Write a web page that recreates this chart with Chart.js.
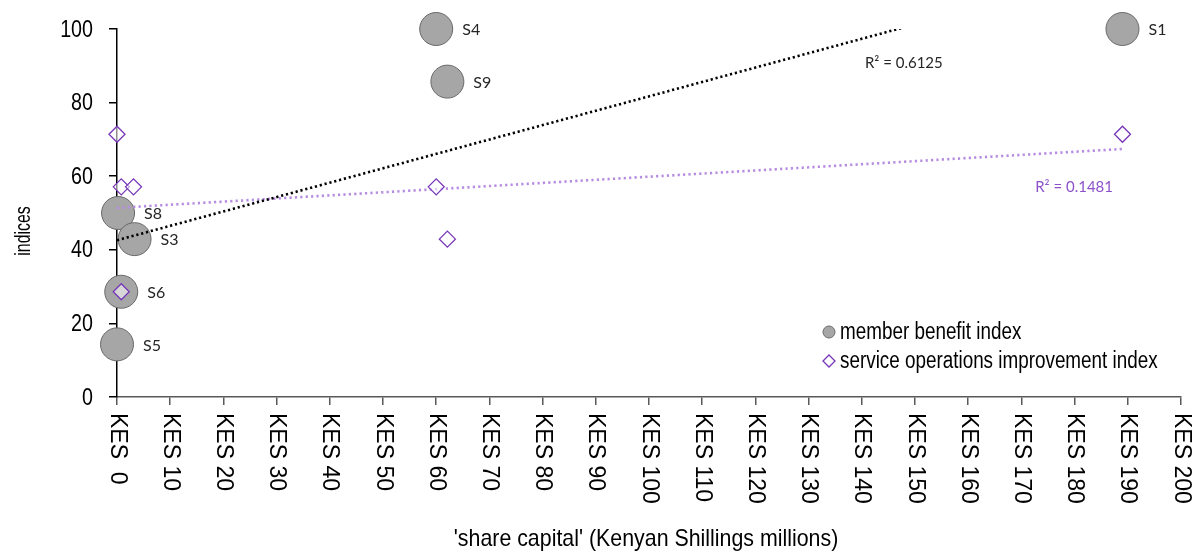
<!DOCTYPE html>
<html>
<head>
<meta charset="utf-8">
<script src="https://cdn.jsdelivr.net/npm/chart.js@4.4.1/dist/chart.umd.min.js"></script>
<style>
  html, body { margin: 0; padding: 0; background: #fff; }
</style>
</head>
<body>
<canvas id="myChart" width="1195" height="557"></canvas>
<script>
// member benefit index (grey circles)
const siteNames = ['S1', 'S4', 'S9', 'S8', 'S3', 'S6', 'S5'];
const benefitCapital = [189, 60, 62.1, 0.2, 3.3, 0.8, 0];
const benefitIndex = [100, 100, 85.7, 50, 42.9, 28.6, 14.3];

// service operations improvement index (diamonds)
const serviceCapital = [0, 0.8, 3.1, 60, 62.1, 189, 0.8];
const serviceIndex = [71.4, 57.1, 57.1, 57.1, 42.9, 71.4, 28.6];

// linear trend lines (start / end)
const trendCapital = [0, 189];
const benefitTrend = [42.6, 116.5];
const serviceTrend = [51.4, 67.4];
const r2Texts = ['R\u00B2 = 0.6125', 'R\u00B2 = 0.1481'];

const seriesNames = ['member benefit index', 'service operations improvement index'];
const xTicks = [0, 10, 20, 30, 40, 50, 60, 70, 80, 90, 100, 110, 120, 130, 140, 150, 160, 170, 180, 190, 200];
const xTickLabels = ['KES  0', 'KES 10', 'KES 20', 'KES 30', 'KES 40', 'KES 50', 'KES 60', 'KES 70',
  'KES 80', 'KES 90', 'KES 100', 'KES 110', 'KES 120', 'KES 130', 'KES 140', 'KES 150', 'KES 160',
  'KES 170', 'KES 180', 'KES 190', 'KES 200'];
const yTicks = [0, 20, 40, 60, 80, 100];
const xTitle = "'share capital' (Kenyan Shillings millions)";
const yTitle = 'indices';

const sans = "'Liberation Sans', Arial, sans-serif";
const lblFont = "Lato, 'Open Sans', sans-serif";
const purple = '#7636b8';

function pts(xs, ys) {
  return xs.map((x, i) => ({ x: x, y: ys[i] }));
}

// Liberation Sans, optionally squeezed along the text direction
function drawText(ctx, text, x, y, size, squeeze, align, rot) {
  ctx.save();
  ctx.translate(x, y);
  if (rot) ctx.rotate(rot);
  ctx.scale(squeeze, 1);
  ctx.font = size + 'px ' + sans;
  ctx.textAlign = align;
  ctx.textBaseline = 'middle';
  ctx.fillText(text, 0, 0);
  ctx.restore();
}

const extras = {
  id: 'extras',
  afterDraw(chart) {
    const ctx = chart.ctx;
    const xs = chart.scales.x, ys = chart.scales.y;
    const area = chart.chartArea;
    ctx.save();

    // site names next to circles
    ctx.font = '16px ' + lblFont;
    ctx.fillStyle = '#262626';
    ctx.textAlign = 'left';
    ctx.textBaseline = 'middle';
    chart.getDatasetMeta(3).data.forEach((p, i) => {
      ctx.fillText(siteNames[i], p.x + 26, p.y + 1);
    });

    // R2 labels
    ctx.font = '15px ' + lblFont;
    ctx.textAlign = 'center';
    ctx.fillStyle = '#262626';
    ctx.fillText(r2Texts[0], xs.getPixelForValue(147.9), ys.getPixelForValue(90.8));
    ctx.fillStyle = '#8d52c9';
    ctx.fillText(r2Texts[1], xs.getPixelForValue(179.9), ys.getPixelForValue(57.1));

    ctx.fillStyle = '#000';
    // y tick labels
    ys.ticks.forEach(t => {
      drawText(ctx, String(t.value), area.left - 24, ys.getPixelForValue(t.value) + 1, 24, 0.82, 'right', 0);
    });
    // x tick labels, turned to read downwards
    xs.ticks.forEach((t, i) => {
      drawText(ctx, xTickLabels[i], xs.getPixelForValue(t.value), area.bottom + 16, 23, 1, 'left', Math.PI / 2);
    });
    // axis titles
    drawText(ctx, xTitle, (area.left + area.right) / 2 - 3, 539, 24, 0.89, 'center', 0);
    drawText(ctx, yTitle, 24, 231, 22, 0.72, 'center', -Math.PI / 2);

    // legend inside the plot
    const lx = area.left + 712, ly = area.bottom - 65;
    ctx.beginPath();
    ctx.arc(lx, ly, 6, 0, Math.PI * 2);
    ctx.fillStyle = '#a6a6a6';
    ctx.fill();
    ctx.strokeStyle = '#6b6b6b';
    ctx.lineWidth = 1;
    ctx.stroke();
    ctx.beginPath();
    ctx.moveTo(lx, ly + 23);
    ctx.lineTo(lx + 6, ly + 29);
    ctx.lineTo(lx, ly + 35);
    ctx.lineTo(lx - 6, ly + 29);
    ctx.closePath();
    ctx.strokeStyle = purple;
    ctx.lineWidth = 1.3;
    ctx.stroke();
    ctx.fillStyle = '#000';
    drawText(ctx, seriesNames[0], lx + 11, ly + 1, 23, 0.82, 'left', 0);
    drawText(ctx, seriesNames[1], lx + 11, ly + 30, 23, 0.82, 'left', 0);

    ctx.restore();
  }
};

const ctx = document.getElementById('myChart').getContext('2d');
new Chart(ctx, {
  type: 'scatter',
  data: {
    datasets: [
      {
        label: seriesNames[1],
        data: pts(serviceCapital, serviceIndex),
        pointStyle: 'rectRot',
        pointRadius: 8,
        pointBorderWidth: 1.3,
        borderColor: purple,
        backgroundColor: 'rgba(255,255,255,0.55)',
        clip: false,
        order: 0
      },
      {
        type: 'line',
        label: 'benefit trend',
        data: pts(trendCapital, benefitTrend),
        borderColor: '#000',
        borderWidth: 2.6,
        borderDash: [2.2, 2.8],
        pointRadius: 0,
        fill: false,
        order: 1
      },
      {
        type: 'line',
        label: 'service trend',
        data: pts(trendCapital, serviceTrend),
        borderColor: '#b68ce2',
        borderWidth: 2.6,
        borderDash: [2.2, 3.2],
        pointRadius: 0,
        fill: false,
        order: 1
      },
      {
        label: seriesNames[0],
        data: pts(benefitCapital, benefitIndex),
        pointStyle: 'circle',
        pointRadius: 16.5,
        pointBorderWidth: 1,
        borderColor: '#686868',
        backgroundColor: '#a6a6a6',
        clip: false,
        order: 2
      }
    ]
  },
  options: {
    responsive: false,
    animation: false,
    events: [],
    layout: { autoPadding: false, padding: { top: 29, right: 14, left: 0, bottom: 0 } },
    plugins: { legend: { display: false }, tooltip: { enabled: false } },
    scales: {
      x: {
        type: 'linear',
        min: 0,
        max: 200,
        afterBuildTicks: s => { s.ticks = xTicks.map(v => ({ value: v })); },
        afterFit: s => { s.height = 160; },
        ticks: { display: false },
        grid: { drawOnChartArea: false, drawTicks: true, tickLength: 8, color: '#595959', lineWidth: 1.5 },
        border: { color: '#595959', width: 1.5 }
      },
      y: {
        min: 0,
        max: 100,
        afterBuildTicks: s => { s.ticks = yTicks.map(v => ({ value: v })); },
        afterFit: s => { s.width = 117; },
        ticks: { display: false },
        grid: { drawOnChartArea: false, drawTicks: true, tickLength: 8, color: '#000', lineWidth: 1.5 },
        border: { color: '#000', width: 1.5 }
      }
    }
  },
  plugins: [extras]
});
</script>
</body>
</html>
